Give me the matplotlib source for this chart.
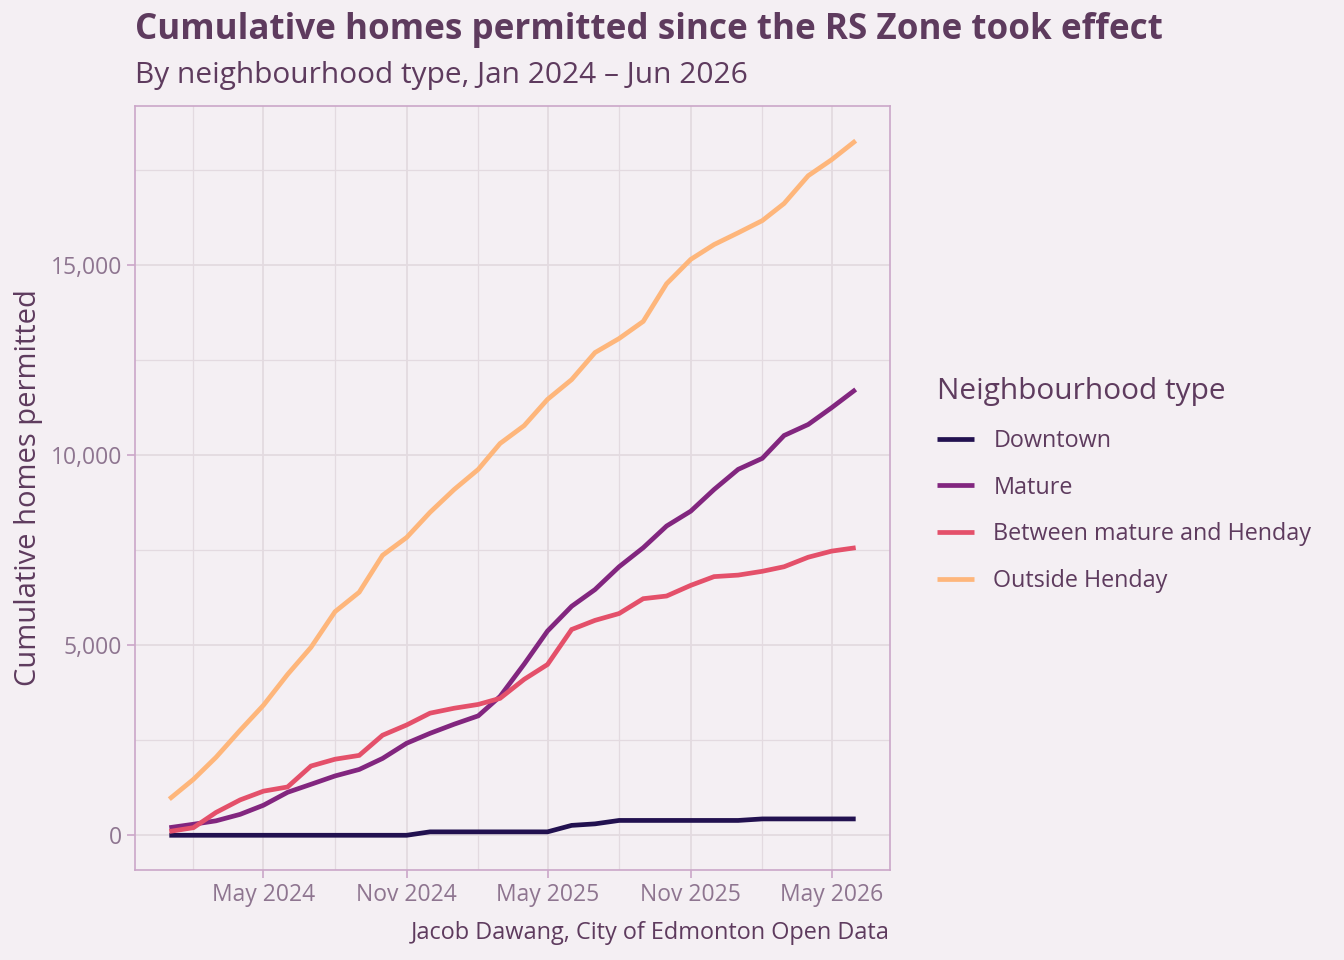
import matplotlib
matplotlib.use("Agg")
import matplotlib.pyplot as plt
import matplotlib.dates as mdates
from matplotlib.ticker import FuncFormatter, MultipleLocator
import pandas as pd

months = pd.date_range("2024-01-01", "2026-06-01", freq="MS")

downtown = [0, 0, 0, 0, 0, 0, 0, 0, 0, 0, 0, 90,
            90, 90, 90, 90, 90, 260, 300, 390, 390, 390, 390, 390,
            390, 430, 430, 430, 430, 430]
mature = [200, 290, 380, 550, 790, 1130, 1340, 1560, 1730, 2020, 2420, 2680,
          2920, 3140, 3650, 4500, 5370, 6020, 6460, 7060, 7560, 8130, 8520, 9090,
          9620, 9910, 10510, 10800, 11240, 11720]
between = [100, 200, 600, 930, 1160, 1270, 1820, 2000, 2100, 2630, 2900, 3210,
           3340, 3440, 3600, 4100, 4490, 5410, 5650, 5830, 6220, 6290, 6570, 6800,
           6840, 6940, 7060, 7310, 7470, 7560]
outside = [950, 1470, 2050, 2760, 3420, 4230, 4940, 5880, 6390, 7360, 7830, 8490,
           9090, 9620, 10300, 10770, 11460, 11980, 12690, 13060, 13510, 14500, 15140, 15530,
           15840, 16160, 16610, 17340, 17760, 18260]

series_names = ["Downtown", "Mature", "Between mature and Henday", "Outside Henday"]
series_values = [downtown, mature, between, outside]
colors = ["#221150", "#82267f", "#e4506a", "#feb67b"]

title = "Cumulative homes permitted since the RS Zone took effect"
subtitle = "By neighbourhood type, Jan 2024 \u2013 Jun 2026"
ylabel = "Cumulative homes permitted"
caption = "Jacob Dawang, City of Edmonton Open Data"
legend_title = "Neighbourhood type"

BG = "#f4eff3"
TEXT = "#5e3b5e"
TICK = "#8e7590"
GRID = "#e3dae0"
SPINE = "#cba6c8"

plt.rcParams["font.family"] = ["Open Sans", "Noto Sans", "DejaVu Sans"]

fig = plt.figure(figsize=(13.44, 9.6), dpi=100, facecolor=BG)
ax = fig.add_axes([135 / 1344, 1 - 870 / 960, (890 - 135) / 1344, (870 - 106) / 960])
ax.set_facecolor(BG)

for name, vals, c in zip(series_names, series_values, colors):
    ax.plot(months, vals, color=c, lw=3.4, label=name, solid_joinstyle="miter",
            solid_capstyle="butt")

ax.margins(x=0.05, y=0.05)

ax.xaxis.set_major_locator(mdates.MonthLocator(bymonth=[5, 11]))
ax.xaxis.set_minor_locator(mdates.MonthLocator(bymonth=[2, 8]))
ax.xaxis.set_major_formatter(mdates.DateFormatter("%b %Y"))
ax.yaxis.set_major_locator(MultipleLocator(5000))
ax.yaxis.set_minor_locator(MultipleLocator(2500))
ax.yaxis.set_major_formatter(FuncFormatter(lambda v, p: f"{int(v):,}"))

ax.grid(True, which="major", color=GRID, lw=1.3)
ax.grid(True, which="minor", color=GRID, lw=0.9)
ax.set_axisbelow(True)

for s in ax.spines.values():
    s.set_color(SPINE)
    s.set_linewidth(1.2)

ax.tick_params(axis="both", which="major", colors=SPINE, labelcolor=TICK,
               labelsize=16.5, length=5.5, width=1.2, pad=4)
ax.tick_params(axis="both", which="minor", length=0)

ax.set_ylabel(ylabel, color=TEXT, fontsize=21, labelpad=5)

fig.text(135 / 1344, 1 - 30 / 960, title, fontsize=25.2, fontweight="bold",
         color=TEXT, va="center", ha="left")
fig.text(135 / 1344, 1 - 76 / 960, subtitle, fontsize=21.5, color=TEXT,
         va="center", ha="left")
fig.text(890 / 1344, 1 - 933 / 960, caption, fontsize=16.9, color=TEXT,
         va="center", ha="right")

leg = ax.legend(loc="center left", bbox_to_anchor=(916 / 1344, 1 - 485 / 960),
                bbox_transform=fig.transFigure, frameon=False,
                title=legend_title, fontsize=16.8, title_fontsize=21.5,
                handlelength=1.6, handletextpad=0.82, labelspacing=0.97)
leg.get_title().set_color(TEXT)
leg._legend_box.align = "left"
for t in leg.get_texts():
    t.set_color(TEXT)

fig.savefig("out.png", dpi=100, facecolor=BG)
